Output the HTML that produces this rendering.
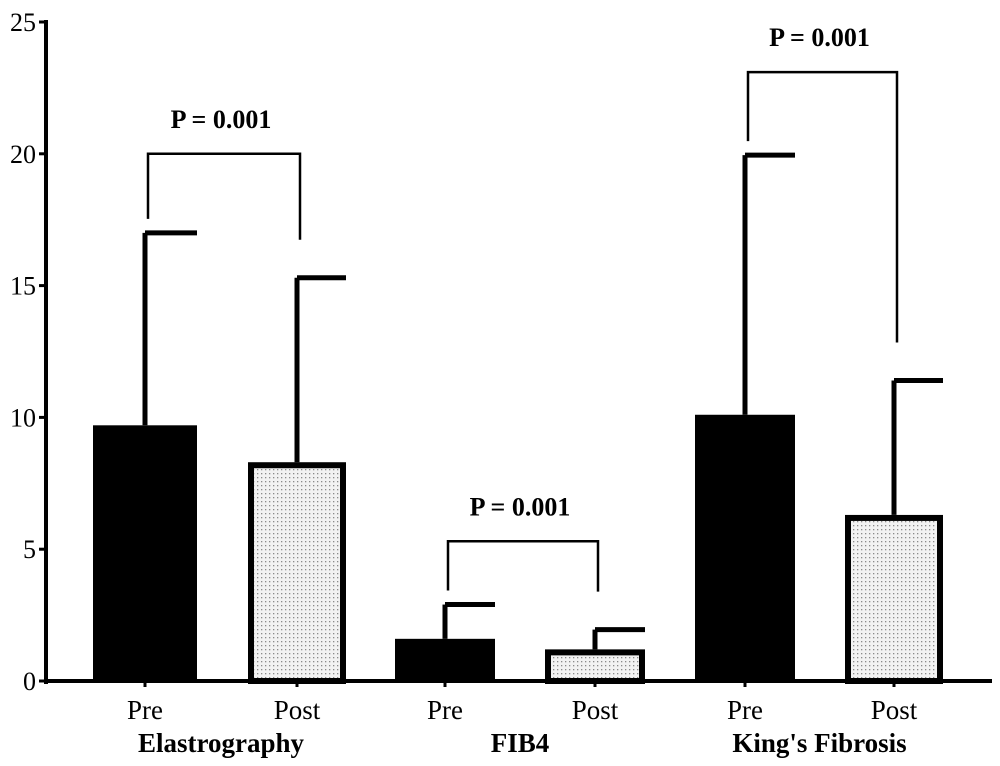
<!DOCTYPE html>
<html><head><meta charset="utf-8"><style>
html,body{margin:0;padding:0;background:#fff;}
svg{display:block;font-family:"Liberation Serif",serif;}
</style></head><body>
<svg id="chart" width="1000" height="766" viewBox="0 0 1000 766">
<defs>
<pattern id="dots" width="4" height="4" patternUnits="userSpaceOnUse">
<rect width="4" height="4" fill="#f2f2f2"/><rect x="1" y="1" width="1.3" height="1.3" fill="#8a8a8a"/>
</pattern>
</defs>
<g id="axes"></g><g id="bars"></g><g id="ann"></g>
</svg>
<script>
const categories = ["Pre","Post","Pre","Post","Pre","Post"];
const groups = ["Elastrography","FIB4","King's Fibrosis"];
const means = [9.7, 8.3, 1.6, 1.2, 10.1, 6.3];
const errorTops = [17.0, 15.3, 2.9, 1.95, 19.95, 11.4];
const yTicks = [0,5,10,15,20,25];
const pLabels = ["P = 0.001","P = 0.001","P = 0.001"];
const bracketY = [20.0, 5.3, 23.1];

const NS="http://www.w3.org/2000/svg";
const y0=681, pxPer=26.36;
const y=v=>y0-v*pxPer;
const barLeft=[93,248,395,545,695,845], barW=[104,98,100,100,100,98];
const xc=i=>barLeft[i]+barW[i]/2;
function mk(tag,attrs,parent,text){const e=document.createElementNS(NS,tag);for(const k in attrs)e.setAttribute(k,attrs[k]);if(text!==undefined)e.textContent=text;document.getElementById(parent).appendChild(e);return e;}

let e=mk("line",{x1:46,y1:y(25)-2,x2:46,y2:y0+3,stroke:"#000","stroke-width":4},"axes");


e=mk("line",{x1:44,y1:y0,x2:992,y2:y0,stroke:"#000","stroke-width":4},"axes");


yTicks.forEach(t=>{
 let l=mk("line",{x1:39,y1:y(t),x2:46,y2:y(t),stroke:"#000","stroke-width":3},"axes");
 
 
 let tx=mk("text",{x:36,y:y(t)+9,"text-anchor":"end","font-size":26},"axes",String(t));
 
 
});
categories.forEach((c,i)=>{
 const cx=xc(i);
 let l=mk("line",{x1:cx,y1:y0,x2:cx,y2:y0+6,stroke:"#000","stroke-width":3},"axes");
 
 
 let t=mk("text",{x:cx,y:719,"text-anchor":"middle","font-size":27},"axes",c);
 
 
 // error bar
 let eb=mk("line",{x1:cx,y1:y(means[i]),x2:cx,y2:y(errorTops[i]),stroke:"#000","stroke-width":5},"bars");
 
 
 let cap=mk("line",{x1:cx,y1:y(errorTops[i]),x2:barLeft[i]+barW[i],y2:y(errorTops[i]),stroke:"#000","stroke-width":5},"bars");
 
 
 const pre=i%2===0;
 let r;
 if(pre){r=mk("rect",{x:barLeft[i],y:y(means[i]),width:barW[i],height:y0-y(means[i]),fill:"#000"},"bars");}
 else{r=mk("rect",{x:barLeft[i]+3,y:y(means[i])+3,width:barW[i]-6,height:y0-y(means[i])-3,fill:"url(#dots)",stroke:"#000","stroke-width":6},"bars");}
 
 
});
groups.forEach((g,k)=>{
 const a=2*k,b=2*k+1,cx=(xc(a)+xc(b))/2;
 let t=mk("text",{x:cx,y:752,"text-anchor":"middle","font-size":27,"font-weight":"bold"},"axes",g);
 
 
 const by=y(bracketY[k]);
 const la=y(errorTops[a])-14, lb=y(errorTops[b])-38;
 let p=mk("path",{d:`M${xc(a)+3},${la} V${by} H${xc(b)+3} V${lb}`,fill:"none",stroke:"#000","stroke-width":2.5},"ann");
 
 
 let pt=mk("text",{x:cx,y:by-26,"text-anchor":"middle","font-size":26,"font-weight":"bold"},"ann",pLabels[k]);
 
 
});
</script>
</body></html>
